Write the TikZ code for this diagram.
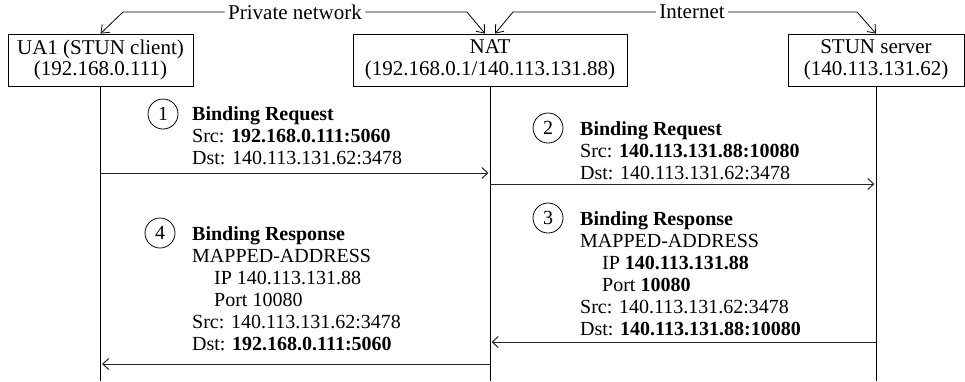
\documentclass[tikz,border=0pt]{standalone}
\usepackage{fontspec}
\setmainfont{Liberation Serif}
\usetikzlibrary{arrows.meta}

\begin{document}
\begin{tikzpicture}[x=1pt, y=-1pt, font=\fontsize{20}{22}\selectfont,
    box/.style={draw, line width=0.8pt, align=center, inner sep=0pt, minimum height=52pt,
      font=\fontsize{21}{21.5}\selectfont},
    lane/.style={line width=1pt},
    msg/.style={line width=1pt, black!85, -{Straight Barb[length=6pt, width=11pt]}, shorten >=1.5pt},
    net/.style={line width=0.8pt, -{Straight Barb[length=7pt, width=11pt]}},
    netlabel/.style={font=\fontsize{21}{21.5}\selectfont},
    num/.style={draw, circle, line width=0.8pt, minimum size=30pt, inner sep=0pt},
    info/.style={anchor=north west, align=left, inner sep=0pt}]
  \useasboundingbox (0,0) rectangle (965,381);

  % hosts
  \node[box, minimum width=185pt] (ua) at (100.5,60) {UA1 (STUN client)\\(192.168.0.111)};
  \node[box, minimum width=274pt] (nat) at (490,60) {NAT\\(192.168.0.1/140.113.131.88)};
  \node[box, minimum width=176pt] (stun) at (876,60) {STUN server\\(140.113.131.62)};

  % network ranges
  \node[netlabel] (pn) at (295,12) {Private network};
  \node[netlabel] (inet) at (692,12) {Internet};
  \draw[net] (pn.west) -- (pn.west -| 123,0) -- (ua.north);
  \draw[net] (pn.east) -- (pn.east -| 467,0) -- ([xshift=-5pt]nat.north);
  \draw[net] (inet.west) -- (inet.west -| 513,0) -- ([xshift=5pt]nat.north);
  \draw[net] (inet.east) -- (inet.east -| 857,0) -- (stun.north);

  % lifelines
  \draw[lane] (ua.south) -- (ua.south |- 0,381);
  \draw[lane] (nat.south) -- (nat.south |- 0,381);
  \draw[lane] (stun.south) -- (stun.south |- 0,381);

  % messages
  \draw[msg] (ua.south |- 0,173) -- (nat.south |- 0,173);
  \draw[msg] (nat.south |- 0,184) -- (stun.south |- 0,184);
  \draw[msg] (stun.south |- 0,342) -- (nat.south |- 0,342);
  \draw[msg] (nat.south |- 0,364) -- (ua.south |- 0,364);

  % 1
  \node[num] (n1) at (163,114) {1};
  \node[info] (t1) at (192,106) {\textbf{Binding Request}\\
    Src: \textbf{192.168.0.111:5060}\\
    Dst: 140.113.131.62:3478};

  % 2
  \node[num] (n2) at (548,128) {2};
  \node[info] (t2) at (580,121) {\textbf{Binding Request}\\
    Src: \textbf{140.113.131.88:10080}\\
    Dst: 140.113.131.62:3478};

  % 3
  \node[num] (n3) at (548,218) {3};
  \node[info] (t3) at (580,211) {\textbf{Binding Response}\\
    MAPPED-ADDRESS\\
    \hspace*{22pt}IP \textbf{140.113.131.88}\\
    \hspace*{22pt}Port \textbf{10080}\\
    Src: 140.113.131.62:3478\\
    Dst: \textbf{140.113.131.88:10080}};

  % 4
  \node[num] (n4) at (160,233) {4};
  \node[info] (t4) at (192,226) {\textbf{Binding Response}\\
    MAPPED-ADDRESS\\
    \hspace*{22pt}IP 140.113.131.88\\
    \hspace*{22pt}Port 10080\\
    Src: 140.113.131.62:3478\\
    Dst: \textbf{192.168.0.111:5060}};
\end{tikzpicture}
\end{document}
